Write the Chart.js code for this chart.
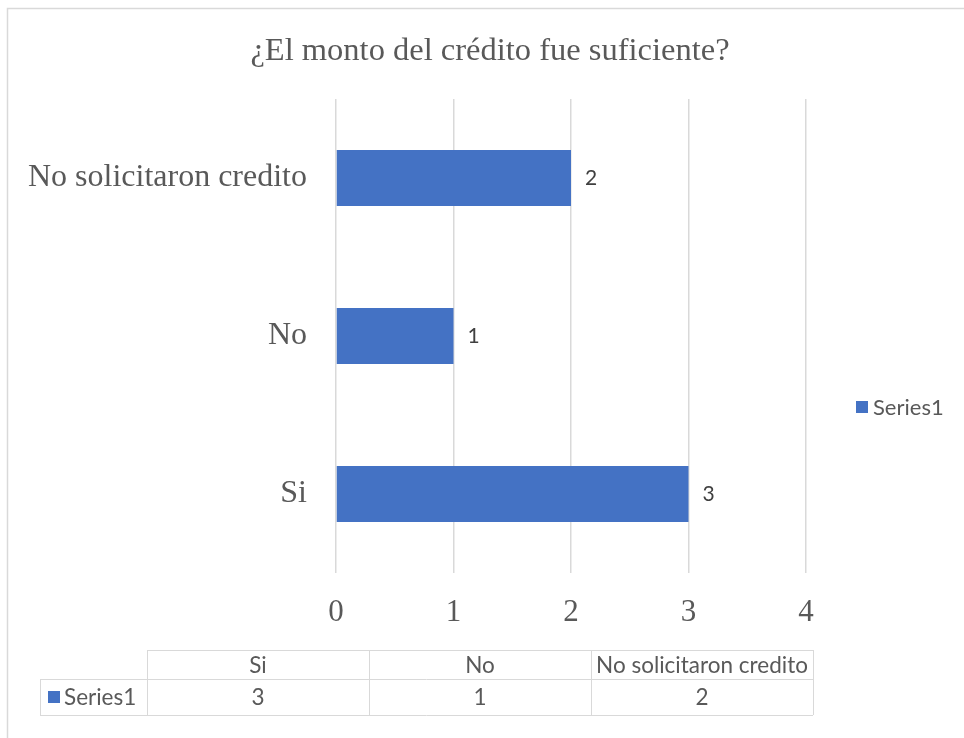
<!DOCTYPE html>
<html>
<head>
<meta charset="utf-8">
<script src="https://cdn.jsdelivr.net/npm/chart.js@4"></script>
<style>
  html, body { margin: 0; padding: 0; background: #fff; }
  #wrap { width: 964px; height: 738px; }
</style>
</head>
<body>
<div id="wrap"><canvas id="chart" width="964" height="738"></canvas></div>
<script>
const chartTitle = "¿El monto del crédito fue suficiente?";
const categories = ["Si", "No", "No solicitaron credito"];
const seriesName = "Series1";
const seriesValues = [3, 1, 2];
const xMin = 0, xMax = 4, xStep = 1;

const serif = "'Liberation Serif', 'Times New Roman', serif";
const sans = "Lato, 'Liberation Sans', sans-serif";
const blue = "#4472C4";
const gridColor = "#d9d9d9";
const textColor = "#595959";

const extras = {
  id: "extras",
  beforeDraw(chart) {
    const ctx = chart.ctx;
    ctx.save();
    ctx.strokeStyle = gridColor;
    ctx.lineWidth = 1.5;
    ctx.strokeRect(7.5, 8.5, 1200, 1200);
    ctx.restore();
  },
  afterDraw(chart) {
    const ctx = chart.ctx;
    ctx.save();

    // title
    ctx.fillStyle = textColor;
    ctx.font = "32.5px " + serif;
    ctx.textAlign = "center";
    ctx.textBaseline = "middle";
    ctx.fillText(chartTitle, 490, 51);

    // data labels next to bars
    ctx.font = "21px " + sans;
    ctx.fillStyle = "#404040";
    ctx.textAlign = "left";
    chart.getDatasetMeta(0).data.forEach((bar, i) => {
      ctx.fillText(String(seriesValues[i]), bar.x + 14, bar.y);
    });

    // legend
    ctx.fillStyle = blue;
    ctx.fillRect(856, 401, 12, 12);
    ctx.fillStyle = textColor;
    ctx.font = "22px " + sans;
    ctx.fillText(seriesName, 873, 408);

    // data table
    const left = 40, colStart = 147, right = 813;
    const rowTop = 650, rowMid = 679, rowBot = 715;
    const colW = (right - colStart) / categories.length;
    ctx.strokeStyle = gridColor;
    ctx.lineWidth = 1;
    ctx.beginPath();
    ctx.moveTo(colStart, rowTop + 0.5); ctx.lineTo(right, rowTop + 0.5);
    ctx.moveTo(left, rowMid + 0.5); ctx.lineTo(right, rowMid + 0.5);
    ctx.moveTo(left, rowBot + 0.5); ctx.lineTo(right, rowBot + 0.5);
    ctx.moveTo(left + 0.5, rowMid); ctx.lineTo(left + 0.5, rowBot);
    for (let i = 0; i <= categories.length; i++) {
      const x = Math.round(colStart + i * colW) + 0.5;
      ctx.moveTo(x, rowTop); ctx.lineTo(x, rowBot);
    }
    ctx.stroke();

    ctx.font = "22.5px " + sans;
    ctx.fillStyle = textColor;
    ctx.textAlign = "center";
    categories.forEach((c, i) => {
      const cx = colStart + (i + 0.5) * colW;
      ctx.fillText(c, cx, (rowTop + rowMid) / 2 + 1);
      ctx.fillText(String(seriesValues[i]), cx, (rowMid + rowBot) / 2 + 1);
    });
    ctx.fillStyle = blue;
    ctx.fillRect(48, 691, 12, 12);
    ctx.fillStyle = textColor;
    ctx.textAlign = "left";
    ctx.fillText(seriesName, 64, (rowMid + rowBot) / 2 + 1);

    ctx.restore();
  }
};

new Chart(document.getElementById("chart"), {
  type: "bar",
  data: {
    labels: categories,
    datasets: [{
      label: seriesName,
      data: seriesValues,
      backgroundColor: blue,
      categoryPercentage: 1,
      barPercentage: 0.355
    }]
  },
  options: {
    indexAxis: "y",
    responsive: false,
    animation: false,
    layout: { padding: { left: 0, top: 99, right: 158, bottom: 105 } },
    plugins: {
      legend: { display: false },
      title: { display: false },
      tooltip: { enabled: false }
    },
    scales: {
      x: {
        min: xMin,
        max: xMax,
        border: { display: false },
        grid: { color: gridColor, lineWidth: 1.5, drawTicks: false },
        ticks: { stepSize: xStep, color: textColor, padding: 21, font: { family: serif, size: 31 } },
        afterFit(scale) { scale.height = 60; }
      },
      y: {
        reverse: true,
        border: { display: false },
        grid: { display: false, drawTicks: false },
        ticks: { color: textColor, padding: 29, font: { family: serif, size: 32 } },
        afterFit(scale) { scale.width = 336; }
      }
    }
  },
  plugins: [extras]
});
</script>
</body>
</html>
